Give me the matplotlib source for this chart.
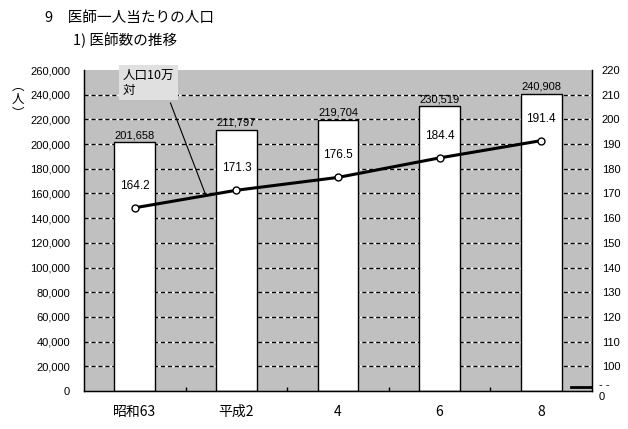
import matplotlib
matplotlib.use("Agg")
import matplotlib.pyplot as plt
from matplotlib.lines import Line2D
import numpy as np

plt.rcParams['font.family'] = ['Noto Sans CJK JP', 'DejaVu Sans']
NUM = ['Liberation Sans', 'DejaVu Sans']

categories = ['昭和63', '平成2', '4', '6', '8']
doctors = [201658, 211797, 219704, 230519, 240908]
per_100k = [164.2, 171.3, 176.5, 184.4, 191.4]
left_ticks = list(range(0, 260001, 20000))
right_ticks = list(range(100, 221, 10))

W, H = 628, 429
fig = plt.figure(figsize=(W / 100, H / 100), dpi=100)
L, R, T, B = 84, 592, 70, 391
ax = fig.add_axes([L / W, 1 - B / H, (R - L) / W, (B - T) / H])
ax.set_facecolor('#c0c0c0')

x = np.arange(len(categories))
ax.set_xlim(-0.5, len(categories) - 0.5)
ax.set_ylim(0, 260000)

# gridlines: black dashes with white gaps
for v in left_ticks[1:-1]:
    ax.axhline(v, color='white', lw=1, zorder=1)
    ax.axhline(v, color='black', lw=1, ls=(0, (3, 2)), zorder=1.1)

bars = ax.bar(x, doctors, width=0.4, color='white', edgecolor='black', lw=1, zorder=2)
for xi, v in zip(x, doctors):
    ax.text(xi, v + 1500, f'{v:,}', ha='center', va='bottom', fontsize=8, zorder=5,
            family=NUM)

ax.set_yticks(left_ticks)
ax.set_yticklabels([f'{v:,}' for v in left_ticks], fontsize=8, family=NUM)
ax.tick_params(axis='y', length=0, pad=10)
ax.set_xticks(x)
ax.set_xticklabels(categories, fontsize=10)
ax.tick_params(axis='x', length=0, pad=10)
ax.set_xticks(np.arange(0.5, len(categories) - 0.5, 1), minor=True)
ax.tick_params(axis='x', which='minor', direction='in', length=3, width=1)
ax.spines['top'].set_visible(False)
for s in ['left', 'right', 'bottom']:
    ax.spines[s].set_linewidth(1)

ax2 = ax.twinx()
ax2.set_ylim(90, 220)
ax2.plot(x, per_100k, color='black', lw=2.2, marker='o', markersize=5,
         markerfacecolor='white', markeredgecolor='black', markeredgewidth=1, zorder=4)
for xi, v in zip(x, per_100k):
    ax2.text(xi, v + 6.5, f'{v}', ha='center', va='bottom', fontsize=8.5,
             family=NUM, zorder=5)
ax2.set_yticks(right_ticks)
ax2.set_yticklabels([str(v) for v in right_ticks], fontsize=8, family=NUM)
ax2.tick_params(axis='y', length=0, pad=7)
ax2.spines['top'].set_visible(False)
ax2.text(1.013, 89.5, '0', transform=ax2.get_yaxis_transform(), ha='left', va='top',
         fontsize=8, family=NUM)
ax2.text(1.013, 90.5, '- -', transform=ax2.get_yaxis_transform(), ha='left', va='bottom',
         fontsize=8, family=NUM)
ax2.add_line(Line2D([0.958, 0.998], [0.013, 0.013], transform=ax2.transAxes,
                    color='black', lw=2, clip_on=False))

# annotation box with leader line
xl = 0.7
yl = np.interp(xl, x, per_100k)
ax2.annotate('人口10万\n対', xy=(xl, yl), xycoords='data',
             xytext=(39 / 508, 1 + 1 / 321), textcoords='axes fraction',
             ha='left', va='top', fontsize=9, linespacing=1.15,
             bbox=dict(boxstyle='square,pad=0.3', fc='#e0e0e0', ec='none'),
             arrowprops=dict(arrowstyle='-', color='black', lw=0.8,
                             relpos=(0.75, 0.6)), zorder=6)

# y label (人)
fig.text(18 / W, 1 - 100 / H, '︵\n人\n︶', rotation=0, ha='center', va='center',
         fontsize=9, linespacing=1.05)

fig.text(45 / W, 1 - 18 / H, '9　医師一人当たりの人口', ha='left', va='center', fontsize=10.5)
fig.text(73 / W, 1 - 40 / H, '1) 医師数の推移', ha='left', va='center', fontsize=10.5)

fig.savefig('out.png', dpi=100)
